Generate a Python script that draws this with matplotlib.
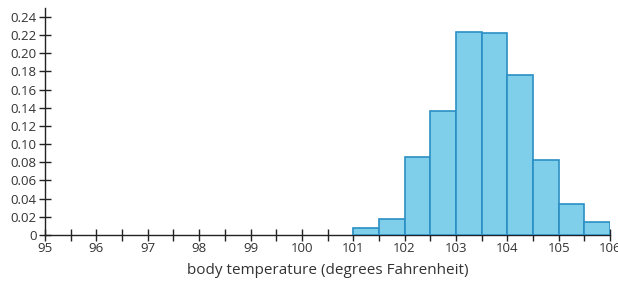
import numpy as np
import matplotlib.pyplot as plt

plt.rcParams['font.family'] = ['Open Sans', 'DejaVu Sans']

# Левые края интервалов и относительные частоты
bin_left = [101.0, 101.5, 102.0, 102.5, 103.0, 103.5, 104.0, 104.5, 105.0, 105.5]
rel_freq = [0.008, 0.018, 0.086, 0.136, 0.224, 0.222, 0.176, 0.082, 0.034, 0.014]
bin_width = 0.5

x_ticks = list(range(95, 107))
y_ticks = [0, 0.02, 0.04, 0.06, 0.08, 0.10, 0.12, 0.14, 0.16, 0.18, 0.20, 0.22, 0.24]
y_labels = ['0'] + [f'{v:.2f}' for v in y_ticks[1:]]

fig = plt.figure(figsize=(6.18, 2.82), dpi=100)
ax = fig.add_axes([0.073, 0.167, 0.914, 0.805])

ax.bar(bin_left, rel_freq, width=bin_width, align='edge',
       color='#7fcfeb', edgecolor='#2a8fc4', linewidth=1.2, zorder=3)

ax.set_xlim(95, 106)
ax.set_ylim(0, 0.25)
ax.set_xticks(x_ticks)
ax.set_xticks(np.arange(95.5, 106, 1.0), minor=True)
ax.set_yticks(y_ticks)
ax.set_yticklabels(y_labels)

for s in ['top', 'right']:
    ax.spines[s].set_visible(False)
for s in ['left', 'bottom']:
    ax.spines[s].set_color('#222222')
    ax.spines[s].set_linewidth(1.0)

ax.tick_params(axis='both', which='both', direction='inout', length=8,
               width=1.0, color='#222222', labelsize=9.5, labelcolor='#333333')
ax.tick_params(axis='x', pad=1)
ax.tick_params(axis='y', pad=2)

ax.set_xlabel('body temperature (degrees Fahrenheit)', fontsize=11,
              color='#333333', labelpad=6)

plt.savefig('out.png', dpi=100)
